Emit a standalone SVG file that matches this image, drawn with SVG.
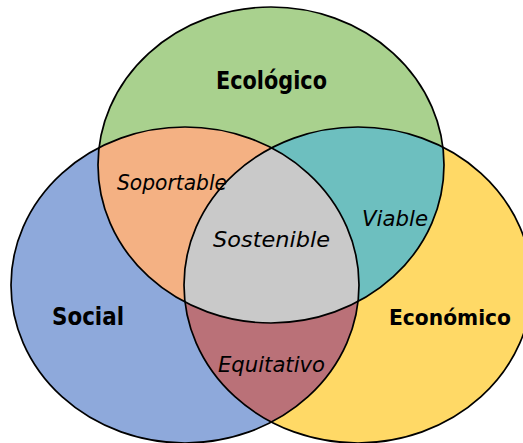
<svg xmlns="http://www.w3.org/2000/svg" xmlns:xlink="http://www.w3.org/1999/xlink" width="523" height="443" viewBox="0 0 523 443">
<style>
.o{fill:none;stroke:#000;stroke-width:1.7}
.t{font-family:"Comic Sans MS","DejaVu Sans",sans-serif;fill:#000;text-anchor:middle}
.b{font-weight:bold;font-size:24px}
.i{font-style:italic;font-size:22px}
</style>
<defs>
<ellipse id="eG" cx="271" cy="165" rx="173" ry="158"/>
<ellipse id="eB" cx="185" cy="285" rx="174" ry="158"/>
<ellipse id="eY" cx="358" cy="285" rx="174" ry="158"/>
<clipPath id="cG"><use xlink:href="#eG"/></clipPath>
<clipPath id="cB"><use xlink:href="#eB"/></clipPath>
<clipPath id="cY"><use xlink:href="#eY"/></clipPath>
</defs>
<rect width="523" height="443" fill="#fff"/>
<g id="social"><use xlink:href="#eB" fill="#8EA9DB"/></g>
<g id="economico"><use xlink:href="#eY" fill="#FFD966"/></g>
<g id="ecologico"><use xlink:href="#eG" fill="#A9D18E"/></g>
<g id="soportable"><g clip-path="url(#cG)"><use xlink:href="#eB" fill="#F4B183"/></g></g>
<g id="viable"><g clip-path="url(#cG)"><use xlink:href="#eY" fill="#6DBFBF"/></g></g>
<g id="equitativo"><g clip-path="url(#cB)"><use xlink:href="#eY" fill="#BA7178"/></g></g>
<g id="sostenible"><g clip-path="url(#cG)"><g clip-path="url(#cB)"><use xlink:href="#eY" fill="#C9C9C9"/></g></g></g>
<g id="outlines">
<use xlink:href="#eG" class="o"/>
<use xlink:href="#eB" class="o"/>
<use xlink:href="#eY" class="o"/>
</g>
<g id="labels">
<text class="t b" x="271.5" y="89" textLength="111" lengthAdjust="spacingAndGlyphs">Ecológico</text>
<text class="t b" x="88" y="325" textLength="72" lengthAdjust="spacingAndGlyphs">Social</text>
<text class="t b" x="450" y="325" font-size="21" style="font-size:21px" textLength="122" lengthAdjust="spacingAndGlyphs">Económico</text>
<text class="t i" x="172" y="190" textLength="110" lengthAdjust="spacingAndGlyphs">Soportable</text>
<text class="t i" x="271.5" y="247" textLength="117" lengthAdjust="spacingAndGlyphs">Sostenible</text>
<text class="t i" x="395" y="226" textLength="66" lengthAdjust="spacingAndGlyphs">Viable</text>
<text class="t i" x="271.5" y="372" textLength="107" lengthAdjust="spacingAndGlyphs">Equitativo</text>
</g>
</svg>
